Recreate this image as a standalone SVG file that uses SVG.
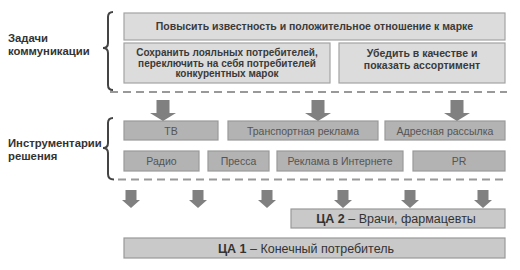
<svg xmlns="http://www.w3.org/2000/svg" width="520" height="270" viewBox="0 0 520 270">
<style>
text{font-family:"Liberation Sans",Arial,sans-serif;}
.lbl{font-size:11.3px;font-weight:bold;fill:#333;}
.goal{fill:#dcdcdc;stroke:#a3a3a3;stroke-width:1.2;}
.tool{fill:#b3b3b3;stroke:#999;stroke-width:1.2;}
.ca{fill:#c9c9c9;stroke:#999;stroke-width:1.2;}
.gt{font-size:10.5px;font-weight:bold;fill:#3a3a3a;text-anchor:middle;}
.gs{font-size:10px;}
.tt{font-size:10.5px;fill:#555;text-anchor:middle;}
.ct{font-size:12.5px;fill:#333;text-anchor:middle;}
.dash{stroke:#999;stroke-width:2;stroke-dasharray:8 5;fill:none;}
.brace{stroke:#444;stroke-width:2;fill:none;}
.arr{fill:#808080;}
</style>
<g id="labels">
<text class="lbl" x="8" y="42">Задачи</text>
<text class="lbl" x="8" y="55">коммуникации</text>
<text class="lbl" x="8" y="147">Инструментарии</text>
<text class="lbl" x="8" y="160">решения</text>
<path class="brace" d="M113,12 Q108,12 108,17 L108,43 Q108,48 103,48 Q108,48 108,53 L108,85 Q108,90 113,90"/>
<path class="brace" d="M113,118 Q108,118 108,123 L108,143 Q108,148 103,148 Q108,148 108,153 L108,174 Q108,179.5 114,179.5"/>
</g>
<g id="goal1"><rect class="goal" x="124" y="13" width="381" height="27"/><text class="gt" x="314.5" y="30">Повысить известность и положительное отношение к марке</text></g>
<g id="goal2"><rect class="goal" x="124" y="43" width="206" height="40"/><text class="gt gs" x="227" y="56">Сохранить лояльных потребителей,</text><text class="gt gs" x="227" y="66.5">переключить на себя потребителей</text><text class="gt gs" x="227" y="77">конкурентных марок</text></g>
<g id="goal3"><rect class="goal" x="339" y="43" width="166" height="40"/><text class="gt" x="422" y="57">Убедить в качестве и</text><text class="gt" x="422" y="69">показать ассортимент</text></g>
<g id="tv"><rect class="tool" x="124" y="121" width="94" height="19"/><text class="tt" x="171" y="134.5">ТВ</text></g>
<g id="transport"><rect class="tool" x="228" y="121" width="150" height="19"/><text class="tt" x="303" y="134.5">Транспортная реклама</text></g>
<g id="mail"><rect class="tool" x="385" y="121" width="120" height="19"/><text class="tt" x="445" y="134.5">Адресная рассылка</text></g>
<g id="radio"><rect class="tool" x="124" y="151" width="75" height="20"/><text class="tt" x="161.5" y="165">Радио</text></g>
<g id="press"><rect class="tool" x="208" y="151" width="61" height="20"/><text class="tt" x="238.5" y="165">Пресса</text></g>
<g id="internet"><rect class="tool" x="277" y="151" width="126" height="20"/><text class="tt" x="340" y="165">Реклама в Интернете</text></g>
<g id="pr"><rect class="tool" x="413" y="151" width="92" height="20"/><text class="tt" x="459" y="165">PR</text></g>
<g id="ca2"><rect class="ca" x="291" y="209" width="214" height="19"/><text class="ct" x="396" y="223"><tspan font-weight="bold">ЦА 2</tspan> – Врачи, фармацевты</text></g>
<g id="ca1"><rect class="ca" x="124" y="238" width="381" height="20"/><text class="ct" x="306" y="252.5"><tspan font-weight="bold">ЦА 1</tspan> – Конечный потребитель</text></g>
<g id="connectors">
<path class="dash" d="M110,92 H507"/>
<path class="dash" d="M118,179.5 H507"/>
<polygon class="arr" points="156.5,100 169.5,100 169.5,113 176,113 163,121 150,113 156.5,113"/>
<polygon class="arr" points="311.5,100 324.5,100 324.5,113 331,113 318,121 305,113 311.5,113"/>
<polygon class="arr" points="450.5,100 463.5,100 463.5,113 470,113 457,121 444,113 450.5,113"/>
<polygon class="arr" points="125.5,190 136.5,190 136.5,200 140,200 131,208 122,200 125.5,200"/>
<polygon class="arr" points="192.5,190 203.5,190 203.5,200 207,200 198,208 189,200 192.5,200"/>
<polygon class="arr" points="261.5,190 272.5,190 272.5,200 276,200 267,208 258,200 261.5,200"/>
<polygon class="arr" points="337.5,190 348.5,190 348.5,200 352,200 343,208 334,200 337.5,200"/>
<polygon class="arr" points="404.5,190 415.5,190 415.5,200 419,200 410,208 401,200 404.5,200"/>
<polygon class="arr" points="477.5,190 488.5,190 488.5,200 492,200 483,208 474,200 477.5,200"/>
</g>
</svg>
